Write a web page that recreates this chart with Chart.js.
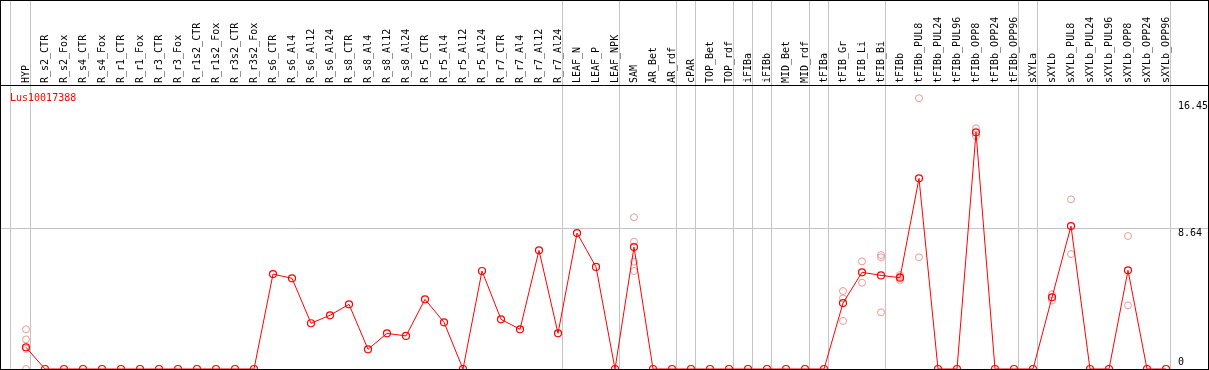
<!DOCTYPE html>
<html>
<head>
<meta charset="utf-8">
<script src="https://cdn.jsdelivr.net/npm/chart.js@4"></script>
<style>
  html, body { margin: 0; padding: 0; background: #fff; }
  canvas { display: block; }
</style>
</head>
<body>
<canvas id="chart" width="1209" height="370"></canvas>
<script>
const categories = [
  'HYP', 'R_s2_CTR', 'R_s2_Fox', 'R_s4_CTR', 'R_s4_Fox', 'R_r1_CTR', 'R_r1_Fox',
  'R_r3_CTR', 'R_r3_Fox', 'R_r1s2_CTR', 'R_r1s2_Fox', 'R_r3s2_CTR', 'R_r3s2_Fox',
  'R_s6_CTR', 'R_s6_Al4', 'R_s6_Al12', 'R_s6_Al24', 'R_s8_CTR', 'R_s8_Al4',
  'R_s8_Al12', 'R_s8_Al24', 'R_r5_CTR', 'R_r5_Al4', 'R_r5_Al12', 'R_r5_Al24',
  'R_r7_CTR', 'R_r7_Al4', 'R_r7_Al12', 'R_r7_Al24', 'LEAF_N', 'LEAF_P', 'LEAF_NPK',
  'SAM', 'AR_Bet', 'AR_rdf', 'cPAR', 'TOP_Bet', 'TOP_rdf', 'iFIBa', 'iFIBb',
  'MID_Bet', 'MID_rdf', 'tFIBa', 'tFIB_Gr', 'tFIB_Li', 'tFIB_Bi', 'tFIBb',
  'tFIBb_PUL8', 'tFIBb_PUL24', 'tFIBb_PUL96', 'tFIBb_OPP8', 'tFIBb_OPP24', 'tFIBb_OPP96',
  'sXYLa', 'sXYLb', 'sXYLb_PUL8', 'sXYLb_PUL24', 'sXYLb_PUL96', 'sXYLb_OPP8',
  'sXYLb_OPP24', 'sXYLb_OPP96'
];

const meanValues = [
  1.33, 0, 0, 0, 0, 0, 0, 0, 0, 0, 0, 0, 0,
  5.83, 5.57, 2.81, 3.30, 3.97, 1.21, 2.19, 2.03, 4.28, 2.87, 0, 6.02,
  3.05, 2.44, 7.29, 2.19, 8.35, 6.27, 0,
  7.49, 0, 0, 0, 0, 0, 0, 0, 0, 0, 0,
  4.05, 5.94, 5.75, 5.61, 11.71, 0, 0, 14.54, 0, 0,
  0, 4.40, 8.78, 0, 0, 6.06, 0, 0
];

// individual replicates (category index, value)
const replicateIdx = [0, 0, 0, 0, 32, 32, 32, 32, 43, 43, 43, 44, 44, 45, 45, 45,
  46, 46, 46, 47, 47, 50, 50, 54, 54, 55, 55, 58, 58];
const replicateVals = [2.44, 1.82, 1.23, 0, 9.32, 7.82, 6.59, 6.02, 4.79, 4.34, 2.95, 6.61, 5.30,
  7.00, 6.86, 3.48, 5.77, 5.67, 5.47, 16.63, 6.86, 14.78, 14.31, 4.59, 4.20, 10.42, 7.06, 8.17, 3.91];

// group separators sit just after the last category of each group
const groupEnds = [-1.05, 0, 28, 31, 34, 35, 37, 38, 39, 41, 42, 45, 52, 53, 60];
const yTicks = [0, 8.64, 16.45];
const geneName = 'Lus10017388';

const FONT = 'DejaVu Sans Mono';
const GRID = '#c4c4c4';
const X_MIN = -25 / 19;
const X_MAX = X_MIN + 1169 / 19;

const noPad = (scale) => {
  scale.paddingLeft = 0;
  scale.paddingRight = 0;
  scale.paddingTop = 0;
  scale.paddingBottom = 0;
};

const framePlugin = {
  id: 'frame',
  afterDraw(chart) {
    const ctx = chart.ctx;
    const top = chart.chartArea.top;
    ctx.save();
    ctx.strokeStyle = '#000';
    ctx.lineWidth = 1;
    ctx.strokeRect(0.5, 0.5, 1208, 369);
    ctx.beginPath();
    ctx.moveTo(0, top + 0.5);
    ctx.lineTo(1209, top + 0.5);
    ctx.stroke();
    ctx.fillStyle = '#ff0000';
    ctx.font = '10px "' + FONT + '"';
    ctx.textBaseline = 'middle';
    ctx.fillText(geneName, 10, top + 13);
    ctx.restore();
  }
};

const ctx = document.getElementById('chart').getContext('2d');
new Chart(ctx, {
  type: 'line',
  data: {
    datasets: [
      {
        label: geneName,
        data: meanValues.map((v, i) => ({ x: i, y: v })),
        borderColor: '#ff0000',
        backgroundColor: 'rgba(0,0,0,0)',
        borderWidth: 1,
        pointRadius: 3.5,
        pointBorderWidth: 1.2,
        pointBorderColor: '#ff0000',
        pointBackgroundColor: 'rgba(0,0,0,0)',
        tension: 0,
        clip: false,
        xAxisID: 'x',
        yAxisID: 'y'
      },
      {
        label: 'replicates',
        data: replicateIdx.map((c, i) => ({ x: c, y: replicateVals[i] })),
        showLine: false,
        pointRadius: 3.5,
        pointBorderWidth: 1,
        pointBorderColor: 'rgb(240,150,150)',
        pointBackgroundColor: 'rgba(0,0,0,0)',
        clip: false,
        xAxisID: 'x',
        yAxisID: 'y'
      }
    ]
  },
  options: {
    responsive: false,
    animation: false,
    devicePixelRatio: 1,
    layout: { autoPadding: false, padding: { left: 1, right: 0, top: 0, bottom: 1 } },
    plugins: {
      legend: { display: false },
      tooltip: { enabled: false },
      title: { display: false }
    },
    scales: {
      x: {
        type: 'linear',
        position: 'top',
        weight: 1,
        min: X_MIN,
        max: X_MAX,
        afterBuildTicks: (scale) => {
          scale.ticks = categories.map((c, i) => ({ value: i }));
        },
        afterFit: (scale) => { scale.height = 85; noPad(scale); },
        grid: { display: false, drawTicks: false },
        border: { display: false },
        ticks: {
          autoSkip: false,
          minRotation: 90,
          maxRotation: 90,
          padding: 2,
          labelOffset: 12,
          color: '#000',
          font: { family: FONT, size: 10 },
          callback: (v) => categories[v]
        }
      },
      xg: {
        type: 'linear',
        position: 'top',
        weight: 0,
        min: X_MIN,
        max: X_MAX,
        afterBuildTicks: (scale) => {
          scale.ticks = groupEnds.map((g) => ({ value: g + 0.246 }));
        },
        afterFit: (scale) => { scale.height = 0; noPad(scale); },
        grid: { color: GRID, tickColor: GRID, drawTicks: true, tickLength: 85, lineWidth: 1 },
        border: { display: false },
        ticks: { display: false }
      },
      y: {
        type: 'linear',
        position: 'right',
        min: 0,
        max: 284 / 16.28,
        afterBuildTicks: (scale) => {
          scale.ticks = yTicks.map((v) => ({ value: v }));
        },
        afterFit: (scale) => { scale.width = 39; noPad(scale); },
        grid: {
          color: (c) => (c.tick && c.tick.value === 8.64 ? GRID : 'rgba(0,0,0,0)'),
          tickColor: (c) => (c.tick && c.tick.value === 8.64 ? GRID : 'rgba(0,0,0,0)'),
          drawTicks: true,
          tickLength: 38
        },
        border: { display: false },
        ticks: {
          padding: -30,
          labelOffset: 5,
          color: '#000',
          font: { family: FONT, size: 10, lineHeight: '12px' },
          callback: (v) => (v === 0 ? ['0', '', ''] : String(v))
        }
      }
    }
  },
  plugins: [framePlugin]
});
</script>
</body>
</html>
